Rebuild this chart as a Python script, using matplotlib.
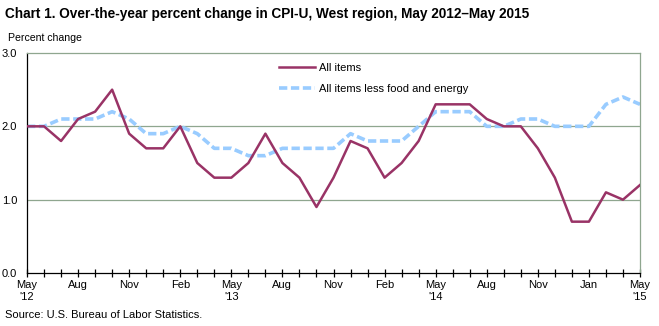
import numpy as np
import matplotlib.pyplot as plt

plt.rcParams['font.family'] = ['Liberation Sans', 'DejaVu Sans']

# monthly values, May 2012 - May 2015
all_items = [2.0, 2.0, 1.8, 2.1, 2.2, 2.5, 1.9, 1.7, 1.7, 2.0, 1.5, 1.3,
             1.3, 1.5, 1.9, 1.5, 1.3, 0.9, 1.3, 1.8, 1.7, 1.3, 1.5, 1.8,
             2.3, 2.3, 2.3, 2.1, 2.0, 2.0, 1.7, 1.3, 0.7, 0.7, 1.1, 1.0, 1.2]
core = [2.0, 2.0, 2.1, 2.1, 2.1, 2.2, 2.1, 1.9, 1.9, 2.0, 1.9, 1.7,
        1.7, 1.6, 1.6, 1.7, 1.7, 1.7, 1.7, 1.9, 1.8, 1.8, 1.8, 2.0,
        2.2, 2.2, 2.2, 2.0, 2.0, 2.1, 2.1, 2.0, 2.0, 2.0, 2.3, 2.4, 2.3]

tick_pos = [0, 3, 6, 9, 12, 15, 18, 21, 24, 27, 30, 33, 36]
tick_labels = ["May\n'12", "Aug", "Nov", "Feb", "May\n'13", "Aug", "Nov", "Feb",
               "May\n'14", "Aug", "Nov", "Jan", "May\n'15"]

x = np.arange(len(all_items))

fig = plt.figure(figsize=(6.59, 3.26), dpi=100)
ax = fig.add_axes([27 / 659, 1 - 273 / 326, 613 / 659, 220 / 326])

grid_c = "#8FA68F"
for yv in [1.0, 2.0]:
    ax.axhline(yv, color=grid_c, linewidth=0.9, zorder=1)

ax.plot(x, all_items, color="#993366", linewidth=1.8, label="All items", zorder=3)
ax.plot(x, core, color="#99CCFF", linewidth=2.6, dashes=(2.3, 1.0),
        label="All items less food and energy", zorder=2)

ax.set_xlim(0, 36)
ax.set_ylim(0, 3.0)
ax.set_yticks([0.0, 1.0, 2.0, 3.0])
ax.set_yticklabels(["0.0", "1.0", "2.0", "3.0"])
ax.set_xticks(np.arange(37), minor=True)
ax.set_xticks(tick_pos)
ax.set_xticklabels(tick_labels)

ax.tick_params(axis="y", length=0, pad=7, labelsize=8)
ax.tick_params(axis="x", which="both", direction="inout", length=6, width=0.9,
               labelsize=8, pad=2)

ax.spines["top"].set_color(grid_c)
ax.spines["right"].set_color(grid_c)
ax.spines["left"].set_color("black")
ax.spines["bottom"].set_color("black")
for s in ax.spines.values():
    s.set_linewidth(0.9)

# legend
ax.legend(loc="upper left", bbox_to_anchor=(0.395, 1.0), frameon=False,
          fontsize=8, handlelength=3.2, handletextpad=0.4, labelspacing=1.0)

fig.text(5 / 659, 1 - 14 / 326, "Chart 1. Over-the-year percent change in CPI-U, West region, May 2012\u2013May 2015",
         fontsize=9.8, fontweight="bold", va="center", ha="left")
fig.text(8 / 659, 1 - 38 / 326, "Percent change", fontsize=7.6, va="center", ha="left")
fig.text(5 / 659, 1 - 315 / 326, "Source: U.S. Bureau of Labor Statistics.", fontsize=8,
         va="center", ha="left")

fig.savefig("out.png", dpi=100)
